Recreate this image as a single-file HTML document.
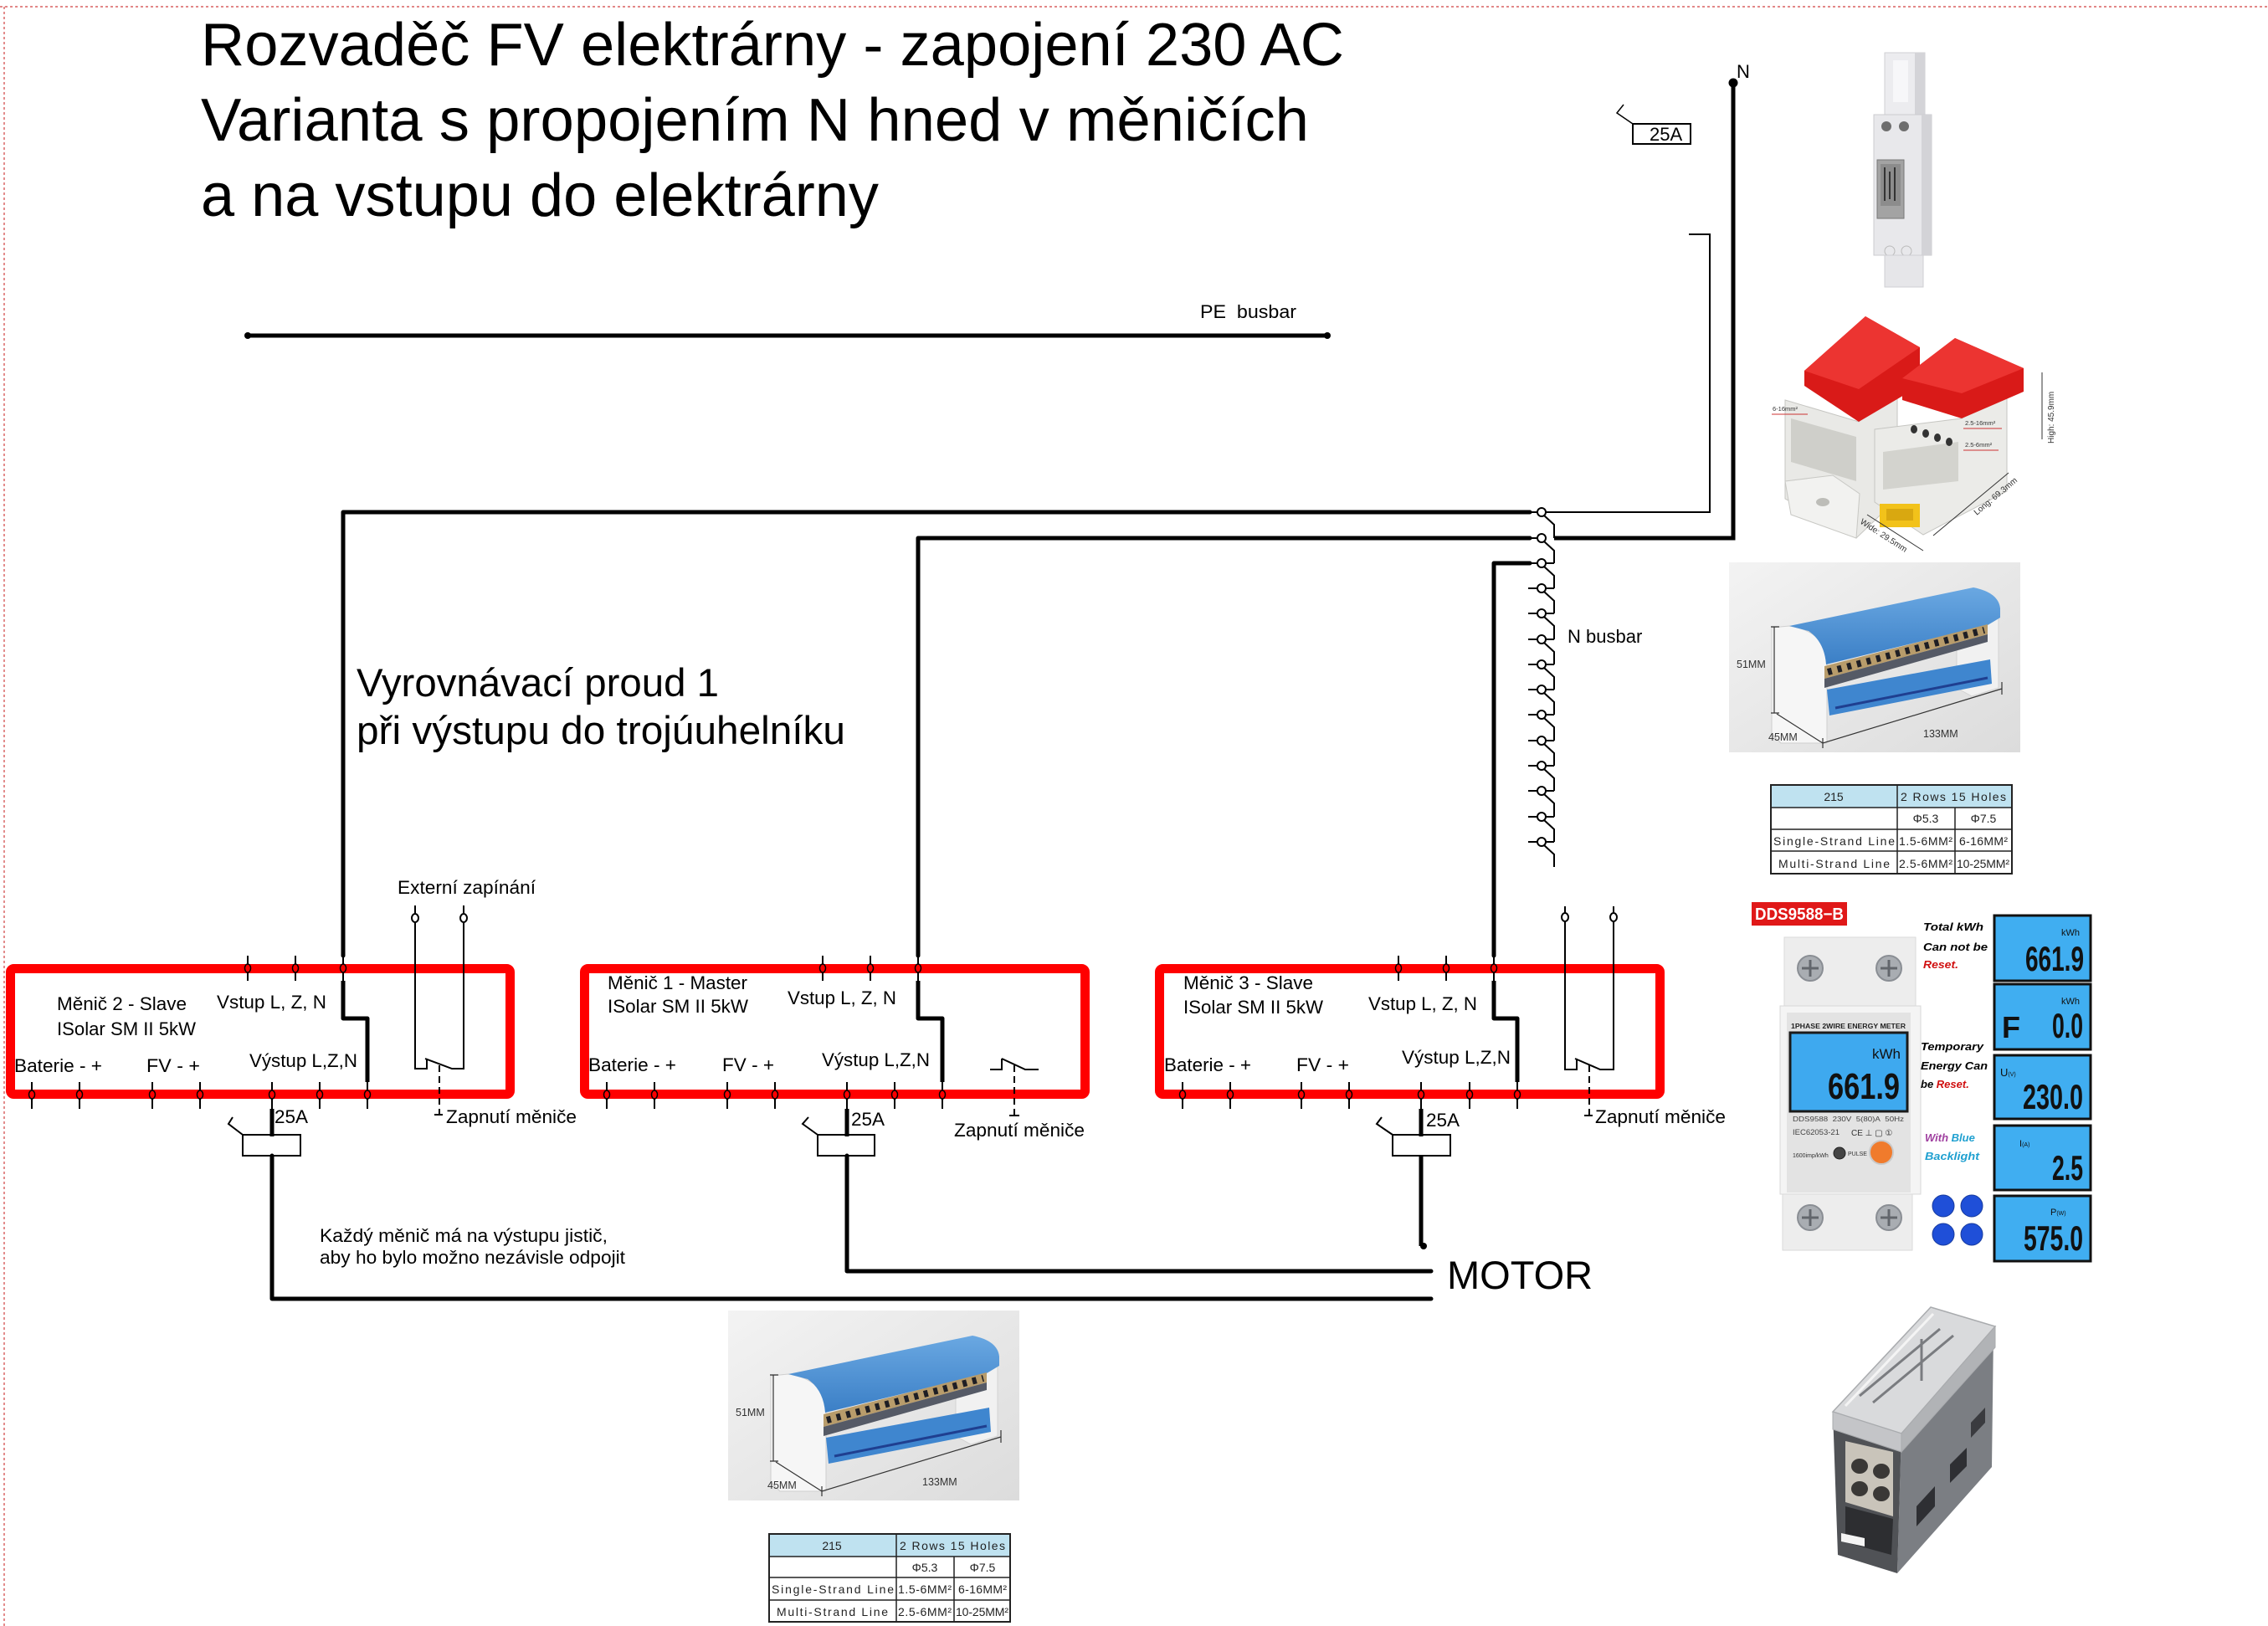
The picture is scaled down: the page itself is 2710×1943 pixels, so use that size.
<!DOCTYPE html>
<html><head><meta charset="utf-8">
<style>
html,body{margin:0;padding:0;background:#fff;}
svg{display:block;}
text{font-family:"Liberation Sans",Arial,sans-serif;}
</style></head><body>
<svg width="2710" height="1943" viewBox="0 0 2710 1943" xmlns="http://www.w3.org/2000/svg">
<defs>
<linearGradient id="bgG" x1="0" y1="0" x2="1" y2="1"><stop offset="0" stop-color="#f3f3f3"/><stop offset="1" stop-color="#dcdcdc"/></linearGradient>
<linearGradient id="blueTop" x1="0" y1="0" x2="0" y2="1"><stop offset="0" stop-color="#6aa8e2"/><stop offset="1" stop-color="#3b7fc6"/></linearGradient>
</defs>
<rect width="2710" height="1943" fill="#fff"/>
<line x1="0" y1="8" x2="2710" y2="8" stroke="#d04040" stroke-width="1.2" stroke-dasharray="3 3"/>
<line x1="5" y1="8" x2="5" y2="1943" stroke="#d04040" stroke-width="1.2" stroke-dasharray="3 3"/>

<!-- Title -->
<text x="240" y="78" font-size="72" textLength="1366" lengthAdjust="spacingAndGlyphs">Rozvaděč FV elektrárny - zapojení 230 AC</text>
<text x="240" y="168" font-size="72" textLength="1324" lengthAdjust="spacingAndGlyphs">Varianta s propojením N hned v měničích</text>
<text x="240" y="258" font-size="72" textLength="810" lengthAdjust="spacingAndGlyphs">a na vstupu do elektrárny</text>

<!-- PE busbar -->
<text x="1434" y="380" font-size="22.5" textLength="115" lengthAdjust="spacingAndGlyphs">PE&#160; busbar</text>
<line x1="296" y1="401" x2="1586" y2="401" stroke="#000" stroke-width="5"/>
<circle cx="296" cy="401" r="4"/><circle cx="1586" cy="401" r="4"/>

<!-- top right breaker 25A -->
<rect x="1951" y="148" width="69" height="24" fill="none" stroke="#000" stroke-width="2"/>
<text x="1971" y="168" font-size="22">25A</text>
<polyline points="1940,125 1932,135 1951,148" fill="none" stroke="#000" stroke-width="1.5"/>
<polyline points="2018,280 2043,280 2043,612 1846,612" fill="none" stroke="#000" stroke-width="2"/>
<polyline points="2071,99 2071,643 1857,643" fill="none" stroke="#000" stroke-width="5"/>
<circle cx="2071" cy="99" r="5.5"/>
<text x="2075" y="93" font-size="22">N</text>

<!-- thick wires to busbar -->
<g fill="none" stroke="#000" stroke-width="5" stroke-linejoin="round" stroke-linecap="round">
<path d="M410,1142 V612 H1828"/>
<path d="M1097,1142 V643 H1828"/>
<path d="M1785,1142 V673 H1828"/>
</g>

<!-- N busbar -->
<g fill="none" stroke="#000" stroke-width="2">
<path d="M1845,616 L1857,627 V643 M1845,647 L1857,658 V673 M1845,677 L1857,688 V703 M1845,707 L1857,718 V733 M1845,737 L1857,748 V764 M1845,768 L1857,779 V794 M1845,798 L1857,809 V824 M1845,828 L1857,839 V854 M1845,858 L1857,869 V885 M1845,889 L1857,900 V915 M1845,919 L1857,930 V945 M1845,949 L1857,960 V976 M1845,980 L1857,991 V1006 M1845,1010 L1857,1021 V1036"/>
<path d="M1847,673 H1857 M1847,703 H1857 M1847,733 H1857 M1847,764 H1857 M1847,794 H1857 M1847,824 H1857 M1847,854 H1857 M1847,885 H1857 M1847,915 H1857 M1847,945 H1857 M1847,976 H1857 M1847,1006 H1857"/>
<path d="M1826,612 H1837 M1826,643 H1837 M1826,673 H1837 M1826,703 H1837 M1826,733 H1837 M1826,764 H1837 M1826,794 H1837 M1826,824 H1837 M1826,854 H1837 M1826,885 H1837 M1826,915 H1837 M1826,945 H1837 M1826,976 H1837 M1826,1006 H1837"/>
</g>
<g fill="#fff" stroke="#000" stroke-width="2">
<circle cx="1842" cy="612" r="5"/><circle cx="1842" cy="643" r="5"/><circle cx="1842" cy="673" r="5"/><circle cx="1842" cy="703" r="5"/><circle cx="1842" cy="733" r="5"/><circle cx="1842" cy="764" r="5"/><circle cx="1842" cy="794" r="5"/><circle cx="1842" cy="824" r="5"/><circle cx="1842" cy="854" r="5"/><circle cx="1842" cy="885" r="5"/><circle cx="1842" cy="915" r="5"/><circle cx="1842" cy="945" r="5"/><circle cx="1842" cy="976" r="5"/><circle cx="1842" cy="1006" r="5"/>
</g>
<text x="1873" y="768" font-size="22">N busbar</text>

<!-- Vyrovnavaci text -->
<text x="426" y="832" font-size="47" textLength="433" lengthAdjust="spacingAndGlyphs">Vyrovnávací proud 1</text>
<text x="426" y="889" font-size="47" textLength="584" lengthAdjust="spacingAndGlyphs">při výstupu do trojúuhelníku</text>

<text x="475" y="1068" font-size="22.5" textLength="165" lengthAdjust="spacingAndGlyphs">Externí zapínání</text>

<!-- Red boxes -->
<g fill="none" stroke="#ff0000" stroke-width="11">
<rect x="12.5" y="1157.5" width="597" height="150" rx="4"/>
<rect x="698.5" y="1157.5" width="598" height="150" rx="4"/>
<rect x="1385.5" y="1157.5" width="598" height="150" rx="4"/>
</g>

<!-- Box labels -->
<g font-size="22.5">
<text x="68" y="1207" textLength="155" lengthAdjust="spacingAndGlyphs">Měnič 2 - Slave</text>
<text x="68" y="1237" textLength="166" lengthAdjust="spacingAndGlyphs">ISolar SM II 5kW</text>
<text x="259" y="1205" textLength="131" lengthAdjust="spacingAndGlyphs">Vstup L, Z, N</text>
<text x="17" y="1281" textLength="105" lengthAdjust="spacingAndGlyphs">Baterie - +</text>
<text x="175" y="1281" textLength="64" lengthAdjust="spacingAndGlyphs">FV - +</text>
<text x="298" y="1275" textLength="129" lengthAdjust="spacingAndGlyphs">Výstup L,Z,N</text>
<text x="533" y="1342" textLength="156" lengthAdjust="spacingAndGlyphs">Zapnutí měniče</text>
<text x="328" y="1342">25A</text>

<text x="726" y="1182" textLength="167" lengthAdjust="spacingAndGlyphs">Měnič 1 - Master</text>
<text x="726" y="1210" textLength="168" lengthAdjust="spacingAndGlyphs">ISolar SM II 5kW</text>
<text x="941" y="1200" textLength="130" lengthAdjust="spacingAndGlyphs">Vstup L, Z, N</text>
<text x="703" y="1280" textLength="105" lengthAdjust="spacingAndGlyphs">Baterie - +</text>
<text x="863" y="1280" textLength="62" lengthAdjust="spacingAndGlyphs">FV - +</text>
<text x="982" y="1274" textLength="129" lengthAdjust="spacingAndGlyphs">Výstup L,Z,N</text>
<text x="1140" y="1358" textLength="156" lengthAdjust="spacingAndGlyphs">Zapnutí měniče</text>
<text x="1017" y="1345">25A</text>

<text x="1414" y="1182" textLength="155" lengthAdjust="spacingAndGlyphs">Měnič 3 - Slave</text>
<text x="1414" y="1211" textLength="167" lengthAdjust="spacingAndGlyphs">ISolar SM II 5kW</text>
<text x="1635" y="1207" textLength="130" lengthAdjust="spacingAndGlyphs">Vstup L, Z, N</text>
<text x="1391" y="1280" textLength="104" lengthAdjust="spacingAndGlyphs">Baterie - +</text>
<text x="1549" y="1280" textLength="63" lengthAdjust="spacingAndGlyphs">FV - +</text>
<text x="1675" y="1271" textLength="130" lengthAdjust="spacingAndGlyphs">Výstup L,Z,N</text>
<text x="1906" y="1342" textLength="156" lengthAdjust="spacingAndGlyphs">Zapnutí měniče</text>
<text x="1704" y="1346">25A</text>
</g>

<!-- Pins -->
<g stroke="#000" stroke-width="2" fill="none">
<path d="M296,1142 V1172 M353,1142 V1172 M410,1142 V1172 M983,1142 V1172 M1040,1142 V1172 M1097,1142 V1172 M1671,1142 V1172 M1728,1142 V1172 M1785,1142 V1172"/>
<path d="M38,1293 V1325 M95,1293 V1325 M182,1293 V1325 M239,1293 V1325 M325,1293 V1325 M382,1293 V1325 M439,1293 V1325 M725,1293 V1325 M782,1293 V1325 M869,1293 V1325 M926,1293 V1325 M1012,1293 V1325 M1069,1293 V1325 M1126,1293 V1325 M1413,1293 V1325 M1470,1293 V1325 M1555,1293 V1325 M1612,1293 V1325 M1698,1293 V1325 M1756,1293 V1325 M1813,1293 V1325"/>
</g>
<g stroke="#000" stroke-width="1.5" fill="#f00">
<ellipse cx="296" cy="1157" rx="3.5" ry="5"/><ellipse cx="353" cy="1157" rx="3.5" ry="5"/><ellipse cx="410" cy="1157" rx="3.5" ry="5"/>
<ellipse cx="983" cy="1157" rx="3.5" ry="5"/><ellipse cx="1040" cy="1157" rx="3.5" ry="5"/><ellipse cx="1097" cy="1157" rx="3.5" ry="5"/>
<ellipse cx="1671" cy="1157" rx="3.5" ry="5"/><ellipse cx="1728" cy="1157" rx="3.5" ry="5"/><ellipse cx="1785" cy="1157" rx="3.5" ry="5"/>
<ellipse cx="38" cy="1308" rx="3.5" ry="5"/><ellipse cx="95" cy="1308" rx="3.5" ry="5"/><ellipse cx="182" cy="1308" rx="3.5" ry="5"/><ellipse cx="239" cy="1308" rx="3.5" ry="5"/><ellipse cx="325" cy="1308" rx="3.5" ry="5"/><ellipse cx="382" cy="1308" rx="3.5" ry="5"/><ellipse cx="439" cy="1308" rx="3.5" ry="5"/>
<ellipse cx="725" cy="1308" rx="3.5" ry="5"/><ellipse cx="782" cy="1308" rx="3.5" ry="5"/><ellipse cx="869" cy="1308" rx="3.5" ry="5"/><ellipse cx="926" cy="1308" rx="3.5" ry="5"/><ellipse cx="1012" cy="1308" rx="3.5" ry="5"/><ellipse cx="1069" cy="1308" rx="3.5" ry="5"/><ellipse cx="1126" cy="1308" rx="3.5" ry="5"/>
<ellipse cx="1413" cy="1308" rx="3.5" ry="5"/><ellipse cx="1470" cy="1308" rx="3.5" ry="5"/><ellipse cx="1555" cy="1308" rx="3.5" ry="5"/><ellipse cx="1612" cy="1308" rx="3.5" ry="5"/><ellipse cx="1698" cy="1308" rx="3.5" ry="5"/><ellipse cx="1756" cy="1308" rx="3.5" ry="5"/><ellipse cx="1813" cy="1308" rx="3.5" ry="5"/>
</g>

<!-- internal wire jogs and output wires -->
<g fill="none" stroke="#000" stroke-width="5" stroke-linejoin="round">
<path d="M410,1172 V1217 H439 V1293"/>
<path d="M1097,1172 V1217 H1126 V1293"/>
<path d="M1785,1172 V1217 H1813 V1293"/>
<path d="M325,1325 V1358"/>
<path d="M1012,1325 V1358"/>
<path d="M1698,1325 V1358"/>
<path d="M325,1381 V1552 H1710" stroke-linecap="round"/>
<path d="M1012,1381 V1519 H1710" stroke-linecap="round"/>
<path d="M1698,1381 V1489"/>
</g>
<circle cx="1701" cy="1489" r="4"/>
<!-- breakers -->
<g fill="none" stroke="#000" stroke-width="2">
<rect x="290" y="1356" width="69" height="25"/>
<rect x="977" y="1356" width="68" height="25"/>
<rect x="1664" y="1356" width="69" height="25"/>
<polyline points="278,1335 273,1343 290,1356"/>
<polyline points="966,1335 959,1343 977,1356"/>
<polyline points="1651,1335 1645,1343 1664,1356"/>
</g>

<!-- switches -->
<g fill="none" stroke="#000" stroke-width="2">
<path d="M496,1082 V1277 H510 V1265 M508,1265 L540,1277 H554 V1082"/>
<path d="M1870,1083 V1278 H1884 V1265 M1882,1265 L1912,1278 H1928 V1083"/>
<path d="M1183,1278 H1197 V1265 M1197,1265 L1225,1278 H1241"/>
<path d="M525,1273 V1332 M1899,1273 V1333 M1212,1273 V1333" stroke-dasharray="8 5"/>
<path d="M519,1332 H529 M1893,1333 H1903 M1206,1333 H1218"/>
</g>
<g fill="#fff" stroke="#000" stroke-width="2">
<ellipse cx="496" cy="1097" rx="4" ry="5"/><ellipse cx="554" cy="1097" rx="4" ry="5"/>
<ellipse cx="1870" cy="1096" rx="4" ry="5"/><ellipse cx="1928" cy="1096" rx="4" ry="5"/>
</g>

<!-- bottom texts -->
<text x="1729" y="1540" font-size="47">MOTOR</text>
<text x="382" y="1484" font-size="22.5" textLength="344" lengthAdjust="spacingAndGlyphs">Každý měnič má na výstupu jistič,</text>
<text x="382" y="1510" font-size="22.5" textLength="365" lengthAdjust="spacingAndGlyphs">aby ho bylo možno nezávisle odpojit</text>

<!-- top meter photo -->
<g>
<rect x="2252" y="63" width="48" height="78" fill="#ececef" stroke="#cfcfd3"/>
<rect x="2288" y="63" width="12" height="78" fill="#d4d4d8"/>
<rect x="2262" y="72" width="18" height="50" fill="#f7f7f9"/>
<rect x="2239" y="137" width="69" height="168" fill="#e8e8eb" stroke="#cbcbcf"/>
<rect x="2296" y="137" width="12" height="168" fill="#d3d3d7"/>
<circle cx="2254" cy="151" r="6" fill="#6e6e6e"/><circle cx="2275" cy="151" r="6" fill="#6e6e6e"/>
<rect x="2243" y="191" width="32" height="70" fill="#a3a3a3" stroke="#777"/>
<rect x="2247" y="196" width="24" height="50" fill="#8c8c8c"/>
<path d="M2252,200 V240 M2258,205 V238 M2264,200 V240" stroke="#333" stroke-width="2"/>
<circle cx="2258" cy="300" r="6" fill="none" stroke="#bbb"/><circle cx="2278" cy="300" r="6" fill="none" stroke="#bbb"/>
<rect x="2252" y="305" width="46" height="38" fill="#e6e6e9" stroke="#cfcfd3"/>
</g>

<!-- red busbar blocks photo -->
<g>
<polygon points="2133,478 2221,504 2267,461 2267,596 2218,643 2133,596" fill="#e9e9e6" stroke="#c6c6c2"/>
<polygon points="2140,500 2218,522 2218,575 2140,552" fill="#cfcfca"/>
<polygon points="2133,575 2190,568 2222,590 2218,643 2140,615" fill="#f2f2f0" stroke="#c8c8c4"/>
<ellipse cx="2178" cy="600" rx="8" ry="5" fill="#bdbdb8"/>
<polygon points="2156,443 2229,378 2294,415 2294,461 2221,504 2156,461" fill="#d91a18"/>
<polygon points="2156,443 2229,378 2294,415 2221,465" fill="#ec3431"/>
<polygon points="2240,513 2344,500 2398,465 2398,587 2298,639 2240,600" fill="#ebebe8" stroke="#c6c6c2"/>
<polygon points="2250,540 2340,528 2340,575 2250,585" fill="#d3d3ce"/>
<polygon points="2273,452 2336,404 2418,440 2418,468 2344,500 2273,478" fill="#d91a18"/>
<polygon points="2273,452 2336,404 2418,440 2344,470" fill="#ec3431"/>
<g fill="#333"><ellipse cx="2287" cy="513" rx="4" ry="5"/><ellipse cx="2301" cy="518" rx="4" ry="5"/><ellipse cx="2315" cy="523" rx="4" ry="5"/><ellipse cx="2329" cy="528" rx="4" ry="5"/></g>
<rect x="2246" y="602" width="48" height="28" fill="#f2c21a"/>
<rect x="2254" y="608" width="32" height="14" fill="#d9a810"/>
<path d="M2231,615 L2298,658 M2310,640 L2400,565 M2440,445 V525" stroke="#333" stroke-width="1" fill="none"/>
<text transform="translate(2222,625) rotate(33)" font-size="10" fill="#333">Wide: 29.5mm</text>
<text transform="translate(2362,616) rotate(-40)" font-size="10" fill="#333">Long: 69.3mm</text>
<text transform="translate(2454,530) rotate(-90)" font-size="10" fill="#333">High: 45.9mm</text>
<text x="2118" y="491" font-size="7.5" fill="#333">6-16mm²</text>
<line x1="2117" y1="495" x2="2160" y2="495" stroke="#c33" stroke-width="1"/>
<text x="2348" y="508" font-size="7.5" fill="#333">2.5-16mm²</text>
<line x1="2346" y1="512" x2="2392" y2="512" stroke="#c33" stroke-width="1"/>
<text x="2348" y="534" font-size="7.5" fill="#333">2.5-6mm²</text>
<line x1="2346" y1="538" x2="2388" y2="538" stroke="#c33" stroke-width="1"/>
</g>

<!-- blue busbar photo (right) -->
<g transform="translate(2066,672)">
<rect width="348" height="227" fill="url(#bgG)"/>
<polygon points="272,62 318,50 322,66 322,150 290,160 272,150" fill="#f1f1f1" stroke="#d2d2d2"/>
<path d="M51,78 L72,76 Q100,80 112,98 L117,110 L117,216 L62,216 L51,205 Z" fill="#f6f6f6" stroke="#cfcfcf"/>
<path d="M72,76 L292,30 Q322,36 324,55 L324,66 L309,75 L116,122 Q114,95 95,82 Z" fill="url(#blueTop)"/>
<polygon points="114,124 309,74 309,86 114,139" fill="#b89c6b"/>
<line x1="118" y1="131" x2="305" y2="81" stroke="#1e1e24" stroke-width="8" stroke-dasharray="5 7"/>
<polygon points="114,139 309,86 309,95 114,150" fill="#555a66"/>
<polygon points="117,152 312,116 314,145 120,183" fill="#3f86cf"/>
<line x1="127" y1="174" x2="309" y2="138" stroke="#1f3f90" stroke-width="3"/>
<path d="M54,77 V180 M50,77 H60 M50,180 H60 M57,181 L112,216 L326,151 M326,143 V158 M112,210 V222" stroke="#333" stroke-width="1.2" fill="none"/>
<text x="9" y="126" font-size="12.5" fill="#333">51MM</text>
<text x="47" y="213" font-size="12.5" fill="#333">45MM</text>
<text x="232" y="209" font-size="12.5" fill="#333">133MM</text>
</g>
<g transform="translate(2116,938)" font-size="14" fill="#222">
<rect width="288" height="27" fill="#bfe2f0"/>
<rect width="288" height="106" fill="none" stroke="#222" stroke-width="2"/>
<path d="M0,27 H288 M0,53 H288 M0,79 H288 M151,0 V106 M220,27 V106" stroke="#222" stroke-width="1.5"/>
<text x="75" y="19" text-anchor="middle" font-family="Liberation Mono">215</text>
<text x="155" y="19" textLength="126" font-family="Liberation Mono">2 Rows 15 Holes</text>
<text x="185" y="45" text-anchor="middle" font-family="Liberation Mono">Φ5.3</text>
<text x="254" y="45" text-anchor="middle" font-family="Liberation Mono">Φ7.5</text>
<text x="3" y="72" textLength="145" font-family="Liberation Mono">Single-Strand Line</text>
<text x="153" y="72" textLength="64" font-family="Liberation Mono">1.5-6MM²</text>
<text x="225" y="72" textLength="58" font-family="Liberation Mono">6-16MM²</text>
<text x="9" y="99" textLength="133" font-family="Liberation Mono">Multi-Strand Line</text>
<text x="153" y="99" textLength="64" font-family="Liberation Mono">2.5-6MM²</text>
<text x="222" y="99" textLength="63" font-family="Liberation Mono">10-25MM²</text>
</g>

<!-- blue busbar photo (bottom) -->
<g transform="translate(870,1566)">
<rect width="348" height="227" fill="url(#bgG)"/>
<polygon points="272,62 318,50 322,66 322,150 290,160 272,150" fill="#f1f1f1" stroke="#d2d2d2"/>
<path d="M51,78 L72,76 Q100,80 112,98 L117,110 L117,216 L62,216 L51,205 Z" fill="#f6f6f6" stroke="#cfcfcf"/>
<path d="M72,76 L292,30 Q322,36 324,55 L324,66 L309,75 L116,122 Q114,95 95,82 Z" fill="url(#blueTop)"/>
<polygon points="114,124 309,74 309,86 114,139" fill="#b89c6b"/>
<line x1="118" y1="131" x2="305" y2="81" stroke="#1e1e24" stroke-width="8" stroke-dasharray="5 7"/>
<polygon points="114,139 309,86 309,95 114,150" fill="#555a66"/>
<polygon points="117,152 312,116 314,145 120,183" fill="#3f86cf"/>
<line x1="127" y1="174" x2="309" y2="138" stroke="#1f3f90" stroke-width="3"/>
<path d="M54,77 V180 M50,77 H60 M50,180 H60 M57,181 L112,216 L326,151 M326,143 V158 M112,210 V222" stroke="#333" stroke-width="1.2" fill="none"/>
<text x="9" y="126" font-size="12.5" fill="#333">51MM</text>
<text x="47" y="213" font-size="12.5" fill="#333">45MM</text>
<text x="232" y="209" font-size="12.5" fill="#333">133MM</text>
</g>
<g transform="translate(919,1833)" font-size="14" fill="#222">
<rect width="288" height="27" fill="#bfe2f0"/>
<rect width="288" height="105" fill="none" stroke="#222" stroke-width="2"/>
<path d="M0,27 H288 M0,52 H288 M0,79 H288 M152,0 V105 M221,27 V105" stroke="#222" stroke-width="1.5"/>
<text x="75" y="19" text-anchor="middle" font-family="Liberation Mono">215</text>
<text x="156" y="19" textLength="126" font-family="Liberation Mono">2 Rows 15 Holes</text>
<text x="186" y="45" text-anchor="middle" font-family="Liberation Mono">Φ5.3</text>
<text x="255" y="45" text-anchor="middle" font-family="Liberation Mono">Φ7.5</text>
<text x="3" y="71" textLength="146" font-family="Liberation Mono">Single-Strand Line</text>
<text x="154" y="71" textLength="64" font-family="Liberation Mono">1.5-6MM²</text>
<text x="226" y="71" textLength="58" font-family="Liberation Mono">6-16MM²</text>
<text x="9" y="98" textLength="133" font-family="Liberation Mono">Multi-Strand Line</text>
<text x="154" y="98" textLength="64" font-family="Liberation Mono">2.5-6MM²</text>
<text x="223" y="98" textLength="63" font-family="Liberation Mono">10-25MM²</text>
</g>

<!-- DDS meter -->
<g>
<rect x="2093" y="1078" width="114" height="28" fill="#e01818"/>
<text x="2097" y="1099" font-family="Liberation Serif" font-weight="bold" font-size="20" fill="#fff" textLength="106" lengthAdjust="spacingAndGlyphs">DDS9588−B</text>
<rect x="2132" y="1120" width="157" height="84" fill="#ededed" stroke="#dadada"/>
<rect x="2127" y="1202" width="168" height="225" fill="#f4f4f4" stroke="#d8d8d8"/>
<rect x="2135" y="1210" width="148" height="215" fill="#e3e3e3"/>
<rect x="2130" y="1427" width="155" height="67" fill="#ededed" stroke="#dadada"/>
<g stroke="#8a8e94" stroke-width="2" fill="#a9adb2">
<circle cx="2163" cy="1157" r="15"/><circle cx="2257" cy="1157" r="15"/>
<circle cx="2163" cy="1455" r="15"/><circle cx="2257" cy="1455" r="15"/>
</g>
<path d="M2153,1157 H2173 M2163,1147 V1167 M2247,1157 H2267 M2257,1147 V1167 M2153,1455 H2173 M2163,1445 V1465 M2247,1455 H2267 M2257,1445 V1465" stroke="#62666c" stroke-width="3"/>
<text x="2140" y="1229" font-size="8.6" font-weight="bold" fill="#222" textLength="137" lengthAdjust="spacingAndGlyphs">1PHASE 2WIRE ENERGY METER</text>
<rect x="2139" y="1234" width="140" height="94" fill="#3ea9ef" stroke="#1a1a1a" stroke-width="3"/>
<text x="2237" y="1265" font-size="17" fill="#111">kWh</text>
<text x="2184" y="1313" font-family="DejaVu Sans Mono" font-weight="bold" font-size="44" fill="#111" textLength="86" lengthAdjust="spacingAndGlyphs">661.9</text>
<text x="2142" y="1340" font-size="8.5" fill="#444" textLength="133" lengthAdjust="spacingAndGlyphs">DDS9588&#160; 230V&#160; 5(80)A&#160; 50Hz</text>
<text x="2142" y="1356" font-size="9.5" fill="#444">IEC62053-21</text>
<text x="2212" y="1357" font-size="10" fill="#333">CE  ⊥  ▢  ①</text>
<text x="2142" y="1383" font-size="7" fill="#333">1600imp/kWh</text>
<circle cx="2198" cy="1378" r="7" fill="#444" stroke="#222"/>
<text x="2208" y="1381" font-size="7" fill="#333">PULSE</text>
<circle cx="2248" cy="1377" r="14" fill="#f07b2c" stroke="#c9c9c9" stroke-width="2"/>

<g font-family="Liberation Serif" font-weight="bold" font-style="italic" font-size="13">
<text x="2298" y="1112" textLength="72" lengthAdjust="spacingAndGlyphs">Total kWh</text>
<text x="2298" y="1136" textLength="77" lengthAdjust="spacingAndGlyphs">Can not be</text>
<text x="2298" y="1157" fill="#d01010" textLength="42" lengthAdjust="spacingAndGlyphs">Reset.</text>
<text x="2295" y="1255" textLength="75" lengthAdjust="spacingAndGlyphs">Temporary</text>
<text x="2295" y="1278" textLength="80" lengthAdjust="spacingAndGlyphs">Energy Can</text>
<text x="2295" y="1300">be <tspan fill="#d01010">Reset.</tspan></text>
<text x="2300" y="1364"><tspan fill="#a040a0">With</tspan> <tspan fill="#1fa0d0">Blue</tspan></text>
<text x="2300" y="1386" fill="#1fa0d0" textLength="65" lengthAdjust="spacingAndGlyphs">Backlight</text>
</g>
<g fill="#1f4fd8" stroke="#163a9e" stroke-width="1">
<circle cx="2322" cy="1441" r="13"/><circle cx="2356" cy="1441" r="13"/>
<circle cx="2322" cy="1475" r="13"/><circle cx="2356" cy="1475" r="13"/>
</g>

<g fill="#40aef1" stroke="#111" stroke-width="3">
<rect x="2383" y="1094" width="115" height="78"/>
<rect x="2383" y="1176" width="115" height="78"/>
<rect x="2383" y="1261" width="115" height="76"/>
<rect x="2383" y="1345" width="115" height="77"/>
<rect x="2383" y="1429" width="115" height="78"/>
</g>
<g fill="#111">
<text x="2463" y="1118" font-size="11">kWh</text>
<text x="2420" y="1160" font-family="DejaVu Sans Mono" font-weight="bold" font-size="42" textLength="70" lengthAdjust="spacingAndGlyphs">661.9</text>
<text x="2463" y="1200" font-size="11">kWh</text>
<text x="2392" y="1240" font-family="DejaVu Sans Mono" font-weight="bold" font-size="36">F</text>
<text x="2452" y="1240" font-family="DejaVu Sans Mono" font-weight="bold" font-size="42" textLength="37" lengthAdjust="spacingAndGlyphs">0.0</text>
<text x="2390" y="1286" font-size="13">U<tspan font-size="7">(V)</tspan></text>
<text x="2417" y="1325" font-family="DejaVu Sans Mono" font-weight="bold" font-size="42" textLength="72" lengthAdjust="spacingAndGlyphs">230.0</text>
<text x="2413" y="1370" font-size="11">I<tspan font-size="7">(A)</tspan></text>
<text x="2452" y="1410" font-family="DejaVu Sans Mono" font-weight="bold" font-size="42" textLength="37" lengthAdjust="spacingAndGlyphs">2.5</text>
<text x="2450" y="1452" font-size="11">P<tspan font-size="7">(W)</tspan></text>
<text x="2418" y="1494" font-family="DejaVu Sans Mono" font-weight="bold" font-size="42" textLength="71" lengthAdjust="spacingAndGlyphs">575.0</text>
</g>
</g>

<!-- bottom right device -->
<g>
<polygon points="2272,1713 2382,1591 2380,1753 2267,1880" fill="#7b7e83"/>
<polygon points="2290,1800 2312,1776 2312,1800 2290,1824" fill="#2e2f33"/>
<polygon points="2330,1750 2350,1730 2350,1752 2330,1772" fill="#2e2f33"/>
<polygon points="2355,1700 2372,1682 2372,1700 2355,1718" fill="#3a3b3f"/>
<polygon points="2190,1687 2272,1713 2267,1880 2196,1858" fill="#505256"/>
<polygon points="2205,1722 2262,1735 2262,1812 2205,1795" fill="#c9c4ba"/>
<g fill="#3a3836"><ellipse cx="2222" cy="1752" rx="10" ry="9"/><ellipse cx="2248" cy="1758" rx="10" ry="9"/><ellipse cx="2222" cy="1779" rx="10" ry="9"/><ellipse cx="2248" cy="1785" rx="10" ry="9"/></g>
<polygon points="2205,1800 2262,1815 2260,1858 2205,1843" fill="#2d2e31"/>
<polygon points="2200,1832 2228,1838 2228,1848 2200,1842" fill="#f4f4f4"/>
<polygon points="2190,1687 2307,1562 2384,1585 2272,1713" fill="#d9dadc" stroke="#a9abae" stroke-width="1.5"/>
<polygon points="2190,1687 2272,1713 2272,1735 2190,1708" fill="#c4c5c8" stroke="#a9abae"/>
<polygon points="2272,1713 2384,1585 2384,1610 2272,1735" fill="#b1b3b6" stroke="#a9abae"/>
<path d="M2222,1668 L2318,1588 M2238,1676 L2334,1596 M2296,1600 V1650" stroke="#7a7c80" stroke-width="3" fill="none"/>
<path d="M2205,1680 L2310,1570" stroke="#f4f4f4" stroke-width="3"/>
</g>
</svg>
</body></html>
